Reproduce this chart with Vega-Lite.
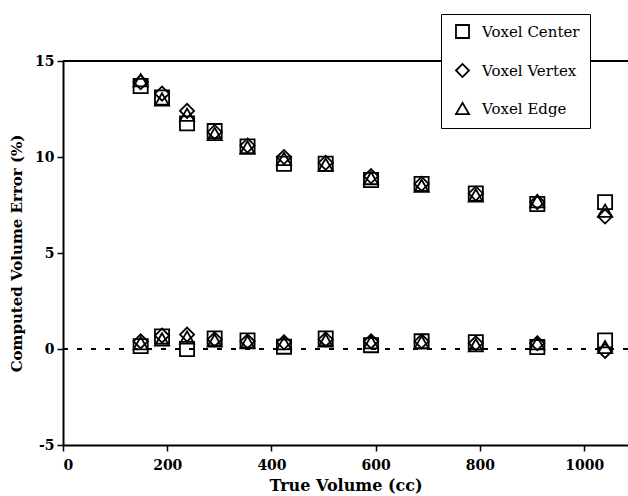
{
  "$schema": "https://vega.github.io/schema/vega-lite/v6.json",
  "width": 565,
  "height": 384,
  "autosize": "none",
  "padding": {"left": 63, "top": 61, "right": 0, "bottom": 51},
  "background": "white",
  "config": {
    "view": {"stroke": null},
    "font": "DejaVu Serif",
    "axis": {"grid": false, "domainColor": "black", "domainWidth": 2, "tickColor": "black", "tickWidth": 1.5, "tickSize": 6, "labelColor": "black", "labelFont": "DejaVu Serif", "labelFontWeight": "bold", "labelFontSize": 14, "labelPadding": 3, "titleFont": "DejaVu Serif", "titleFontWeight": "bold", "titleFontSize": 15, "titleColor": "black"}
  },
  "datasets": {
    "pts": [
      {"volume": 149, "error": 13.7, "method": "Voxel Center", "set": "A"},
      {"volume": 190, "error": 13.1, "method": "Voxel Center", "set": "A"},
      {"volume": 238, "error": 11.75, "method": "Voxel Center", "set": "A"},
      {"volume": 291, "error": 11.35, "method": "Voxel Center", "set": "A"},
      {"volume": 354, "error": 10.55, "method": "Voxel Center", "set": "A"},
      {"volume": 424, "error": 9.65, "method": "Voxel Center", "set": "A"},
      {"volume": 504, "error": 9.65, "method": "Voxel Center", "set": "A"},
      {"volume": 591, "error": 8.8, "method": "Voxel Center", "set": "A"},
      {"volume": 688, "error": 8.6, "method": "Voxel Center", "set": "A"},
      {"volume": 792, "error": 8.1, "method": "Voxel Center", "set": "A"},
      {"volume": 910, "error": 7.55, "method": "Voxel Center", "set": "A"},
      {"volume": 1040, "error": 7.65, "method": "Voxel Center", "set": "A"},
      {"volume": 149, "error": 0.15, "method": "Voxel Center", "set": "B"},
      {"volume": 190, "error": 0.65, "method": "Voxel Center", "set": "B"},
      {"volume": 238, "error": 0.0, "method": "Voxel Center", "set": "B"},
      {"volume": 291, "error": 0.55, "method": "Voxel Center", "set": "B"},
      {"volume": 354, "error": 0.45, "method": "Voxel Center", "set": "B"},
      {"volume": 424, "error": 0.12, "method": "Voxel Center", "set": "B"},
      {"volume": 504, "error": 0.55, "method": "Voxel Center", "set": "B"},
      {"volume": 591, "error": 0.2, "method": "Voxel Center", "set": "B"},
      {"volume": 688, "error": 0.4, "method": "Voxel Center", "set": "B"},
      {"volume": 792, "error": 0.35, "method": "Voxel Center", "set": "B"},
      {"volume": 910, "error": 0.1, "method": "Voxel Center", "set": "B"},
      {"volume": 1040, "error": 0.45, "method": "Voxel Center", "set": "B"},
      {"volume": 149, "error": 13.9, "method": "Voxel Vertex", "set": "A"},
      {"volume": 190, "error": 13.3, "method": "Voxel Vertex", "set": "A"},
      {"volume": 238, "error": 12.4, "method": "Voxel Vertex", "set": "A"},
      {"volume": 291, "error": 11.3, "method": "Voxel Vertex", "set": "A"},
      {"volume": 354, "error": 10.6, "method": "Voxel Vertex", "set": "A"},
      {"volume": 424, "error": 10.0, "method": "Voxel Vertex", "set": "A"},
      {"volume": 504, "error": 9.7, "method": "Voxel Vertex", "set": "A"},
      {"volume": 591, "error": 9.0, "method": "Voxel Vertex", "set": "A"},
      {"volume": 688, "error": 8.6, "method": "Voxel Vertex", "set": "A"},
      {"volume": 792, "error": 8.1, "method": "Voxel Vertex", "set": "A"},
      {"volume": 910, "error": 7.65, "method": "Voxel Vertex", "set": "A"},
      {"volume": 1040, "error": 6.9, "method": "Voxel Vertex", "set": "A"},
      {"volume": 149, "error": 0.4, "method": "Voxel Vertex", "set": "B"},
      {"volume": 190, "error": 0.7, "method": "Voxel Vertex", "set": "B"},
      {"volume": 238, "error": 0.75, "method": "Voxel Vertex", "set": "B"},
      {"volume": 291, "error": 0.5, "method": "Voxel Vertex", "set": "B"},
      {"volume": 354, "error": 0.4, "method": "Voxel Vertex", "set": "B"},
      {"volume": 424, "error": 0.35, "method": "Voxel Vertex", "set": "B"},
      {"volume": 504, "error": 0.5, "method": "Voxel Vertex", "set": "B"},
      {"volume": 591, "error": 0.4, "method": "Voxel Vertex", "set": "B"},
      {"volume": 688, "error": 0.4, "method": "Voxel Vertex", "set": "B"},
      {"volume": 792, "error": 0.3, "method": "Voxel Vertex", "set": "B"},
      {"volume": 910, "error": 0.3, "method": "Voxel Vertex", "set": "B"},
      {"volume": 1040, "error": -0.1, "method": "Voxel Vertex", "set": "B"},
      {"volume": 149, "error": 14.0, "method": "Voxel Edge", "set": "A"},
      {"volume": 190, "error": 13.0, "method": "Voxel Edge", "set": "A"},
      {"volume": 238, "error": 12.2, "method": "Voxel Edge", "set": "A"},
      {"volume": 291, "error": 11.2, "method": "Voxel Edge", "set": "A"},
      {"volume": 354, "error": 10.5, "method": "Voxel Edge", "set": "A"},
      {"volume": 424, "error": 9.9, "method": "Voxel Edge", "set": "A"},
      {"volume": 504, "error": 9.6, "method": "Voxel Edge", "set": "A"},
      {"volume": 591, "error": 8.9, "method": "Voxel Edge", "set": "A"},
      {"volume": 688, "error": 8.5, "method": "Voxel Edge", "set": "A"},
      {"volume": 792, "error": 8.0, "method": "Voxel Edge", "set": "A"},
      {"volume": 910, "error": 7.7, "method": "Voxel Edge", "set": "A"},
      {"volume": 1040, "error": 7.2, "method": "Voxel Edge", "set": "A"},
      {"volume": 149, "error": 0.3, "method": "Voxel Edge", "set": "B"},
      {"volume": 190, "error": 0.5, "method": "Voxel Edge", "set": "B"},
      {"volume": 238, "error": 0.6, "method": "Voxel Edge", "set": "B"},
      {"volume": 291, "error": 0.45, "method": "Voxel Edge", "set": "B"},
      {"volume": 354, "error": 0.35, "method": "Voxel Edge", "set": "B"},
      {"volume": 424, "error": 0.3, "method": "Voxel Edge", "set": "B"},
      {"volume": 504, "error": 0.45, "method": "Voxel Edge", "set": "B"},
      {"volume": 591, "error": 0.35, "method": "Voxel Edge", "set": "B"},
      {"volume": 688, "error": 0.35, "method": "Voxel Edge", "set": "B"},
      {"volume": 792, "error": 0.2, "method": "Voxel Edge", "set": "B"},
      {"volume": 910, "error": 0.3, "method": "Voxel Edge", "set": "B"},
      {"volume": 1040, "error": 0.1, "method": "Voxel Edge", "set": "B"}
    ],
    "refs": [{"level": 0}],
    "frame": [{"level": 15}]
  },
  "layer": [
    {
      "data": {"name": "refs"},
      "mark": {"type": "rule", "color": "black", "strokeWidth": 2, "strokeDash": [5, 9]},
      "encoding": {"y": {"field": "level", "type": "quantitative", "scale": {"domain": [-5, 15], "nice": false}}}
    },
    {
      "data": {"name": "frame"},
      "mark": {"type": "rule", "color": "black", "strokeWidth": 2},
      "encoding": {"y": {"field": "level", "type": "quantitative"}}
    },
    {
      "data": {"name": "pts"},
      "mark": {"type": "point", "filled": false, "color": "black", "strokeWidth": 1.8, "size": 200, "opacity": 1},
      "encoding": {
        "x": {"field": "volume", "type": "quantitative", "title": "True Volume (cc)", "scale": {"domain": [0, 1084], "nice": false}, "axis": {"values": [0, 200, 400, 600, 800, 1000], "labelExpr": "'' + datum.value", "labelPadding": 7, "titlePadding": 5, "titleFontSize": 16}},
        "y": {"field": "error", "type": "quantitative", "title": "Computed Volume Error (%)", "scale": {"domain": [-5, 15], "nice": false}, "axis": {"values": [-5, 0, 5, 10, 15], "labelExpr": "'' + datum.value", "titlePadding": 10}},
        "shape": {"field": "method", "type": "nominal", "scale": {"domain": ["Voxel Center", "Voxel Vertex", "Voxel Edge"], "range": ["square", "diamond", "triangle-up"]},
          "legend": {"title": null, "orient": "none", "legendX": 378, "legendY": -47, "fillColor": "white", "strokeColor": "black", "padding": 10, "symbolOffset": 4, "labelFont": "DejaVu Serif", "labelFontSize": 15, "labelColor": "black", "labelFontWeight": "normal", "labelExpr": "datum.label + '\u2003'", "symbolSize": 170, "symbolStrokeColor": "black", "symbolStrokeWidth": 1.8, "symbolFillColor": "transparent", "rowPadding": 18, "labelOffset": 12}
        }
      }
    }
  ]
}
